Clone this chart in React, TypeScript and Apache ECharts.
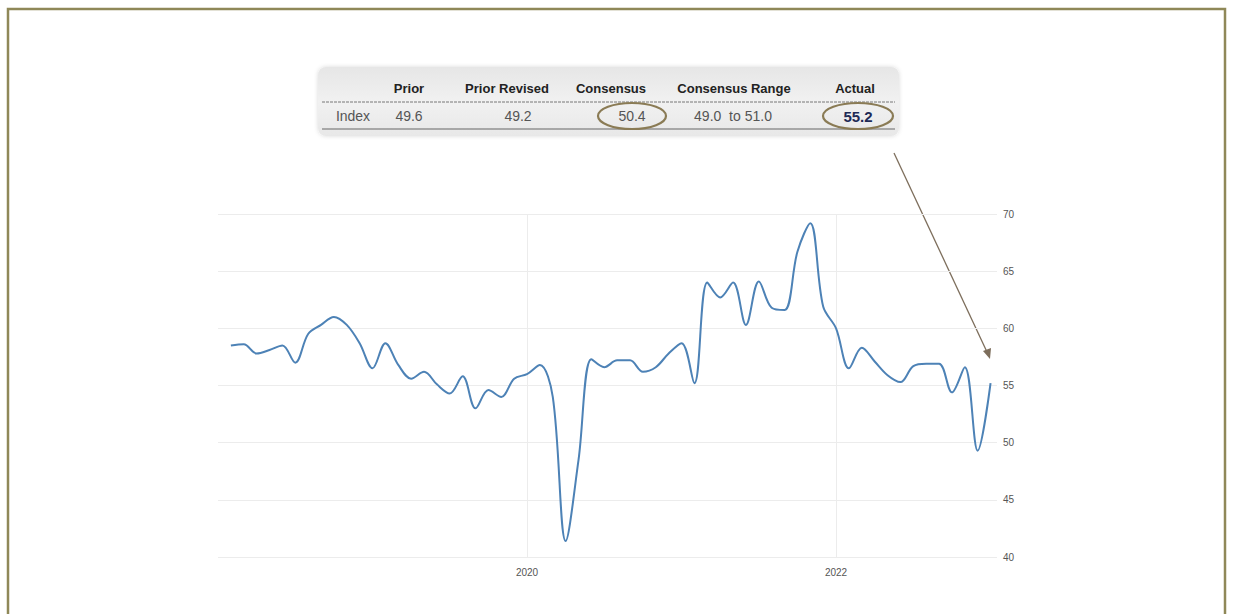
import React, { useEffect, useRef } from "react";
import * as echarts from "echarts";

const months = [
  "2018-02","2018-03","2018-04","2018-05","2018-06","2018-07","2018-08","2018-09","2018-10","2018-11","2018-12",
  "2019-01","2019-02","2019-03","2019-04","2019-05","2019-06","2019-07","2019-08","2019-09","2019-10","2019-11","2019-12",
  "2020-01","2020-02","2020-03","2020-04","2020-05","2020-06","2020-07","2020-08","2020-09","2020-10","2020-11","2020-12",
  "2021-01","2021-02","2021-03","2021-04","2021-05","2021-06","2021-07","2021-08","2021-09","2021-10","2021-11","2021-12",
  "2022-01","2022-02","2022-03","2022-04","2022-05","2022-06","2022-07","2022-08","2022-09","2022-10","2022-11","2022-12",
  "2023-01",
];
const values = [
  58.5, 58.6, 57.8, 58.1, 58.5, 57.0, 59.5, 60.3, 61.0, 60.3, 58.7,
  56.5, 58.7, 56.8, 55.6, 56.2, 55.1, 54.3, 55.8, 53.0, 54.6, 54.0, 55.6,
  56.0, 56.8, 54.0, 41.4, 48.5, 57.3, 56.6, 57.2, 57.2, 56.2, 56.6, 57.8,
  58.7, 55.2, 64.0, 62.7, 64.0, 60.3, 64.1, 61.8, 61.6, 66.7, 69.2, 61.9,
  60.0, 56.5, 58.3, 57.1, 55.9, 55.3, 56.7, 56.9, 56.9, 54.4, 56.6, 49.3,
  55.2,
];
const yearLabels = ["2020", "2022"];
const yTicks = [40, 45, 50, 55, 60, 65, 70];

const tableHeaders = ["Prior", "Prior Revised", "Consensus", "Consensus Range", "Actual"];
const tableRow = ["Index", "49.6", "49.2", "50.4", "49.0  to 51.0", "55.2"];

const BASE_YEAR = 2018;
const monthIndex = (m: string) => {
  const [y, mo] = m.split("-").map(Number);
  return (y - BASE_YEAR) * 12 + (mo - 1);
};

export default function App() {
  const ref = useRef<HTMLDivElement>(null);
  useEffect(() => {
    if (!ref.current) return;
    const chart = echarts.init(ref.current, undefined, { renderer: "svg" });
    const seriesData = months.map((m, i) => [monthIndex(m), values[i]]);
    const frame = "#8f8858";
    const ring = "#8a7b55";
    const headFont = "bold 13px 'Liberation Sans', Arial, sans-serif";
    const rowFont = "14px 'Liberation Sans', Arial, sans-serif";
    chart.setOption({
      animation: false,
      backgroundColor: "#ffffff",
      grid: { left: 218, right: 236, top: 214, bottom: 57, containLabel: false },
      xAxis: {
        type: "value",
        min: 0,
        max: 60.5,
        interval: 24,
        axisLine: { show: false },
        axisTick: { show: false },
        axisLabel: {
          color: "#555",
          fontSize: 10,
          fontFamily: "'Liberation Sans', Arial, sans-serif",
          margin: 10,
          showMinLabel: false,
          showMaxLabel: false,
          formatter: (v: number) => {
            const y = String(BASE_YEAR + Math.round(v / 12));
            return yearLabels.includes(y) && v % 12 === 0 ? y : "";
          },
        },
        splitLine: {
          show: true,
          showMinLine: false,
          showMaxLine: false,
          lineStyle: { color: "#ececec", width: 1 },
        },
      },
      yAxis: {
        type: "value",
        position: "right",
        min: yTicks[0],
        max: yTicks[yTicks.length - 1],
        interval: 5,
        axisLine: { show: false },
        axisTick: { show: false },
        axisLabel: {
          color: "#555",
          fontSize: 10,
          fontFamily: "'Liberation Sans', Arial, sans-serif",
          margin: 6,
        },
        splitLine: { show: true, lineStyle: { color: "#ececec", width: 1 } },
      },
      series: [
        {
          type: "line",
          data: seriesData,
          smooth: 0.35,
          showSymbol: false,
          symbol: "none",
          lineStyle: { color: "#4d82b6", width: 2 },
        },
      ],
      graphic: [
        {
          type: "rect",
          shape: { x: 8, y: 9, width: 1217, height: 640 },
          style: { fill: "none", stroke: frame, lineWidth: 2.5 },
          silent: true,
        },
        {
          type: "rect",
          shape: { x: 318, y: 67, width: 581, height: 69, r: 8 },
          style: {
            fill: new echarts.graphic.LinearGradient(0, 0, 0, 1, [
              { offset: 0, color: "#e6e6e6" },
              { offset: 0.5, color: "#f1f1f1" },
              { offset: 1, color: "#e8e8e8" },
            ]),
            shadowBlur: 4,
            shadowColor: "rgba(0,0,0,0.15)",
          },
          silent: true,
        },
        {
          type: "line",
          shape: { x1: 322, y1: 102, x2: 895, y2: 102 },
          style: { stroke: "#777", lineWidth: 1, lineDash: [3, 1] },
          silent: true,
        },
        {
          type: "line",
          shape: { x1: 322, y1: 129, x2: 895, y2: 129 },
          style: { stroke: "#666", lineWidth: 1.2 },
          silent: true,
        },
        ...[409, 507, 611, 734, 855].map((x, i) => ({
          type: "text",
          x,
          y: 88,
          style: {
            text: tableHeaders[i],
            font: headFont,
            fill: "#222",
            align: "center",
            verticalAlign: "middle",
          },
          silent: true,
        })),
        ...[353, 409, 518, 632, 733, 858].map((x, i) => ({
          type: "text",
          x,
          y: 116,
          style: {
            text: tableRow[i],
            font: i === 5 ? "bold 15px 'Liberation Sans', Arial, sans-serif" : rowFont,
            fill: i === 5 ? "#1e2a55" : "#555",
            align: "center",
            verticalAlign: "middle",
          },
          silent: true,
        })),
        {
          type: "ellipse",
          shape: { cx: 632, cy: 116, rx: 34, ry: 13 },
          style: { fill: "none", stroke: ring, lineWidth: 2.2 },
          silent: true,
        },
        {
          type: "ellipse",
          shape: { cx: 858, cy: 116, rx: 35, ry: 13 },
          style: { fill: "none", stroke: ring, lineWidth: 2.2 },
          silent: true,
        },
        {
          type: "line",
          shape: { x1: 894, y1: 153, x2: 987, y2: 352 },
          style: { stroke: "#7d6e5c", lineWidth: 1.3 },
          silent: true,
        },
        {
          type: "polygon",
          shape: { points: [[990, 359], [983, 351], [991, 348]] },
          style: { fill: "#7d6e5c" },
          silent: true,
        },
      ],
    });
    return () => chart.dispose();
  }, []);
  return (
    <div
      ref={ref}
      style={{ position: "fixed", left: 0, top: 0, width: 1233, height: 614 }}
    />
  );
}
